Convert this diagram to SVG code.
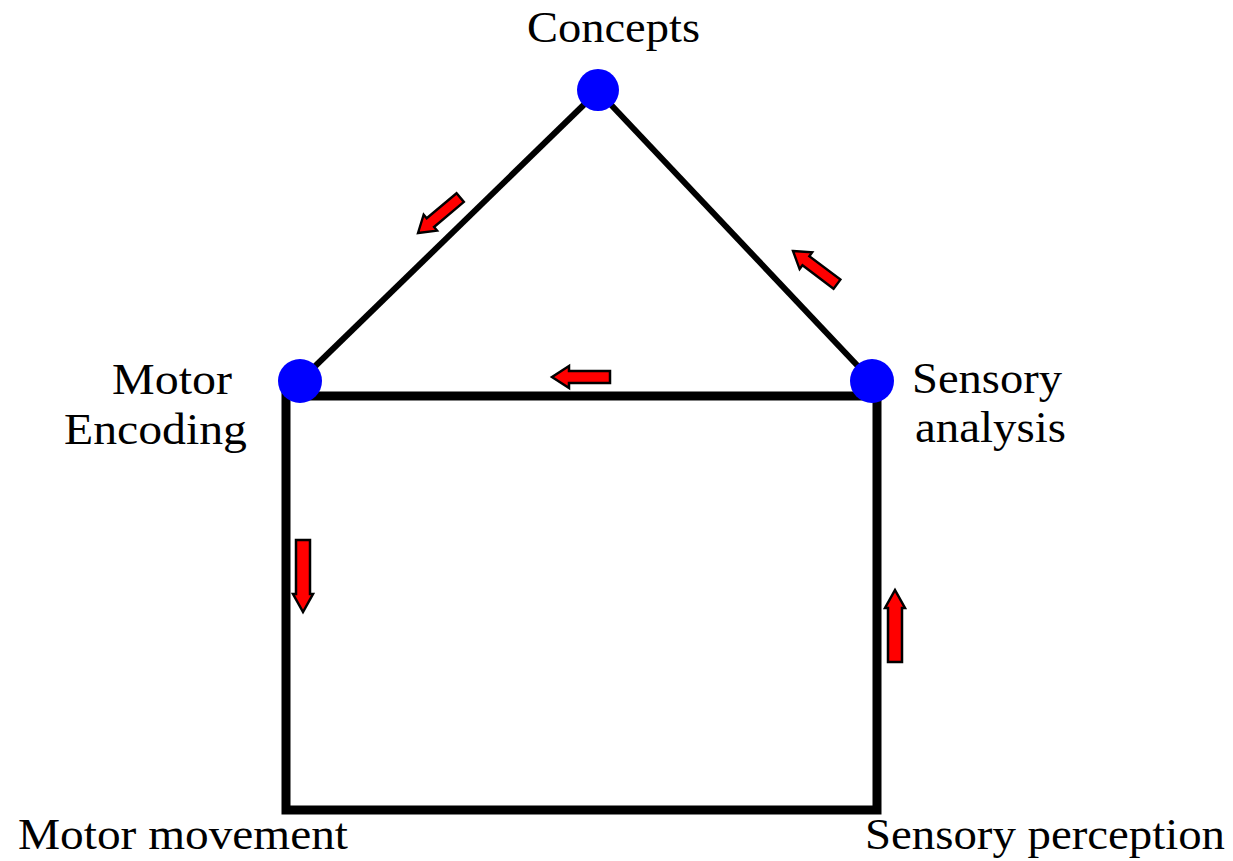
<svg xmlns="http://www.w3.org/2000/svg" width="1233" height="861" viewBox="0 0 1233 861">
<style>
.lbl{font-family:"Liberation Serif","Times New Roman",serif;font-size:45px;fill:#000}
.edge{stroke:#000;fill:none}
.dot{fill:#0000ff}
.arr{fill:#ff0000;stroke:#000;stroke-width:2.5;stroke-linejoin:miter}
</style>
<defs>
<polygon id="arrowL" points="0,0 17,-11 17,-6 58,-6 58,6 17,6 17,11"/>
<polygon id="arrowLong" points="0,0 18,-10 18,-7 72,-7 72,7 18,7 18,10"/>
</defs>
<rect width="1233" height="861" fill="#fff"/>
<g id="connectors">
<line class="edge" x1="304" y1="377" x2="598" y2="91" stroke-width="6"/>
<line class="edge" x1="598" y1="91" x2="872" y2="381" stroke-width="6"/>
<polyline class="edge" points="300,396 877,396 877,810 286,810 286,392" stroke-width="9" stroke-linecap="square"/>
<use href="#arrowL" class="arr" transform="translate(552,377)"/>
<use href="#arrowLong" class="arr" transform="translate(303,612) rotate(-90)"/>
<use href="#arrowLong" class="arr" transform="translate(895,590) rotate(90)"/>
<use href="#arrowL" class="arr" transform="translate(418,233) rotate(-40) scale(0.95)"/>
<use href="#arrowL" class="arr" transform="translate(793,251) rotate(37) scale(0.95)"/>
</g>
<g id="concepts">
<circle class="dot" cx="598" cy="90" r="21"/>
<text class="lbl" x="527" y="42" textLength="173" lengthAdjust="spacingAndGlyphs">Concepts</text>
</g>
<g id="motor-encoding">
<circle class="dot" cx="300" cy="381" r="22"/>
<text class="lbl" x="112" y="394" textLength="120" lengthAdjust="spacingAndGlyphs">Motor</text>
<text class="lbl" x="64" y="444" textLength="183" lengthAdjust="spacingAndGlyphs">Encoding</text>
</g>
<g id="sensory-analysis">
<circle class="dot" cx="872" cy="381" r="22"/>
<text class="lbl" x="912" y="393" textLength="150" lengthAdjust="spacingAndGlyphs">Sensory</text>
<text class="lbl" x="915" y="442" textLength="151" lengthAdjust="spacingAndGlyphs">analysis</text>
</g>
<g id="motor-movement">
<text class="lbl" x="18" y="849" textLength="330" lengthAdjust="spacingAndGlyphs">Motor movement</text>
</g>
<g id="sensory-perception">
<text class="lbl" x="865" y="849" textLength="360" lengthAdjust="spacingAndGlyphs">Sensory perception</text>
</g>
</svg>
